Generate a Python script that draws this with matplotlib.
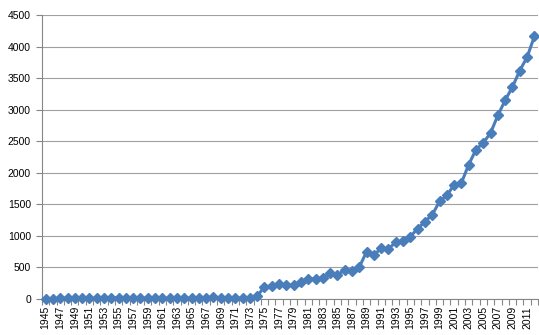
import matplotlib
matplotlib.use("Agg")
import matplotlib.pyplot as plt
import numpy as np

years = list(range(1945, 2013))
values = [5, 5, 8, 15, 10, 18, 8, 8, 15, 20,
          18, 20, 10, 8, 15, 10, 8, 10, 15, 10,
          15, 18, 12, 30, 20, 15, 20, 8, 15, 45,
          195, 205, 235, 220, 222, 265, 318, 318, 335, 405,
          385, 455, 445, 505, 750, 690, 810, 790, 905, 915,
          990, 1115, 1225, 1335, 1545, 1640, 1810, 1840, 2130, 2367,
          2473, 2633, 2910, 3150, 3360, 3620, 3830, 4160]
yticks = [0, 500, 1000, 1500, 2000, 2500, 3000, 3500, 4000, 4500]

plt.rcParams['font.family'] = ['Liberation Sans', 'DejaVu Sans']

fig = plt.figure(figsize=(5.39, 3.35), dpi=100)
ax = fig.add_axes([42/539, 36/335, 496/539, 284/335])

x = np.arange(len(years))
ax.plot(x, values, color='#4A7EBB', lw=2.2, marker='D', ms=5,
        mfc='#4A7EBB', mec='#4A7EBB', zorder=3, clip_on=False)

ax.set_xlim(-0.5, len(years) - 0.5)
ax.set_ylim(0, 4500)
ax.set_yticks(yticks)
ax.set_yticklabels([str(v) for v in yticks], fontsize=7.5)
ax.yaxis.grid(True, color='#A0A0A0', lw=0.8)
ax.set_axisbelow(True)

lab_idx = x[::2]
ax.set_xticks(lab_idx)
ax.set_xticklabels([str(years[i]) for i in lab_idx], rotation=90, fontsize=7.5)
ax.set_xticks(np.arange(-0.5, len(years), 1), minor=True)
ax.tick_params(axis='x', which='major', length=0, pad=5)
ax.tick_params(axis='x', which='minor', length=4, color='#868686', width=0.8)
ax.tick_params(axis='y', length=4, color='#868686', width=0.8, pad=4)

for s in ['top', 'right']:
    ax.spines[s].set_visible(False)
for s in ['left', 'bottom']:
    ax.spines[s].set_color('#868686')
    ax.spines[s].set_linewidth(0.8)

fig.savefig('out.png', dpi=100)
